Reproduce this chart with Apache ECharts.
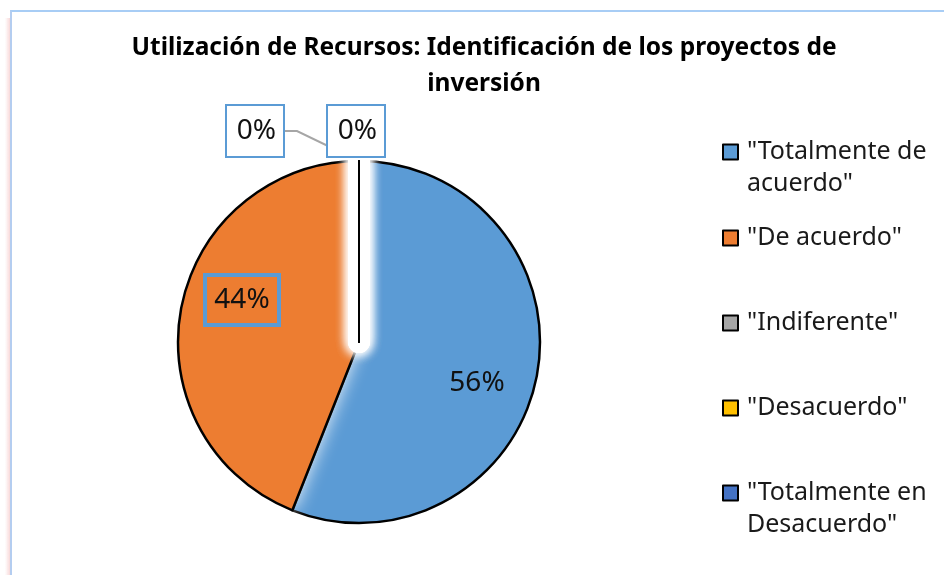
<!DOCTYPE html>
<html>
<head>
<meta charset="utf-8">
<script src="https://cdn.jsdelivr.net/npm/echarts@6/dist/echarts.min.js"></script>
<style>
  html, body { margin: 0; padding: 0; background: #fff; }
  #main { position: absolute; left: 0; top: 0; width: 944px; height: 575px; }
  #frame { position: absolute; left: 10px; top: 10px; right: 0; bottom: 0; border-top: 2px solid #a8cdf5; border-left: 2px solid #b4cdf0; pointer-events: none; }
  #edge { position: absolute; left: 5px; top: 18px; width: 5px; bottom: 0; background: linear-gradient(to right, rgba(255,255,255,0), rgba(240,170,170,0.45)); pointer-events: none; }
</style>
</head>
<body>
<div id="main"></div>
<div id="frame"></div>
<div id="edge"></div>
<script>
const titleText = 'Utilización de Recursos: Identificación de los proyectos de\ninversión'
const categories = ['"Totalmente de acuerdo"', '"De acuerdo"', '"Indiferente"', '"Desacuerdo"', '"Totalmente en Desacuerdo"']
const values = [56, 44, 0, 0, 0]
const sliceColors = ['#5b9bd5', '#ed7d31', '#a5a5a5', '#ffc000', '#4472c4']

const FONT = 'Noto Sans'
const PIE_CENTER = [359, 342]
const PIE_RADIUS = 181
const OUTLINE = 2.5
const boxStyle = { borderColor: '#5b9bd5', borderWidth: 2, padding: [8, 7], lineHeight: 34, overflow: 'none' }
const HIDDEN = { color: 'rgba(0,0,0,0)', borderWidth: 0 }

// legend rows sit where the original spaced them
const legendTops = [104, 222, 307, 392, 445]

const myChart = echarts.init(document.getElementById('main'), null, { renderer: 'canvas' })

const pieBase = {
  type: 'pie',
  center: PIE_CENTER,
  radius: PIE_RADIUS,
  startAngle: 90,
  clockwise: true,
  avoidLabelOverlap: false,
  percentPrecision: 0,
  animation: false,
  emphasis: { disabled: true }
}

// nudge inside labels outwards, snapped to whole pixels so the box borders stay crisp
const insideShift = [[26, 23], [-25, -24]]
const snapShift = (p, dx, dy) => ({
  x: Math.round(p.labelRect.x + p.labelRect.width / 2 + dx),
  y: Math.round(p.labelRect.y + p.labelRect.height / 2 + dy)
})

// one extra pie layer per drawing pass, all fed from the same arrays
const layer = (name, styleFor, labelFor) => ({
  ...pieBase,
  name,
  silent: true,
  label: { show: false },
  labelLine: { show: false },
  data: categories.map((c, i) => Object.assign(
    { name: c, value: values[i], itemStyle: styleFor(i) },
    labelFor ? labelFor(i) : {}
  ))
})

const zeroBox = () => Object.assign(
  { show: true, position: 'outside', formatter: '{d}%', fontFamily: FONT, fontSize: 28, color: '#111', backgroundColor: '#fff', width: 42 },
  boxStyle
)
const zeroLabel = (i) => {
  if (i === 2) {
    return { label: zeroBox(), labelLine: { show: true, length: 30, length2: 12, lineStyle: { color: '#a6a6a6', width: 2 } } }
  }
  if (i === 3) {
    return { label: zeroBox(), labelLine: { show: false, length: 30, length2: 0 } }
  }
  return {}
}

const zeroLayer = layer('zero', (i) => (values[i] === 0 ? { color: 'rgba(0,0,0,0)', borderColor: '#000', borderWidth: 2 } : HIDDEN), zeroLabel)
zeroLayer.labelLayout = (p) => {
  const right = p.labelRect.x + p.labelRect.width
  const midY = Math.round(p.labelRect.y + p.labelRect.height / 2)
  if (p.dataIndex === 2) return { x: Math.round(right - 61), y: midY }
  if (p.dataIndex === 3) return { x: Math.round(right + 28), y: midY }
  return {}
}

myChart.setOption({
  backgroundColor: 'transparent',
  title: {
    text: titleText,
    left: 484,
    top: 30,
    padding: 0,
    textAlign: 'center',
    textStyle: { fontFamily: FONT, fontWeight: 'bold', fontSize: 24.5, lineHeight: 36, color: '#000' }
  },
  legend: categories.map((name, i) => ({
    orient: 'vertical',
    left: 722,
    top: legendTops[i],
    padding: 0,
    data: [name],
    icon: 'rect',
    itemWidth: 15,
    itemHeight: 15,
    selectedMode: false,
    itemStyle: { borderColor: '#000', borderWidth: 2 },
    formatter: (n) => (n.length > 16 ? '\n' : '') + n,
    textStyle: {
      fontFamily: FONT,
      fontSize: 25,
      lineHeight: 32,
      color: '#1a1a1a',
      width: 196,
      overflow: 'break',
      padding: [0, 0, 0, 4]
    }
  })),
  series: [
    {
      ...pieBase,
      name: 'base',
      label: { show: true, position: 'inside', formatter: '{d}%', fontFamily: FONT, fontSize: 28, color: '#111' },
      labelLine: { show: false },
      labelLayout: (p) => {
        const s = insideShift[p.dataIndex]
        return s ? snapShift(p, s[0], s[1]) : {}
      },
      data: categories.map((name, i) => ({
        name,
        value: values[i],
        itemStyle: i === 1
          ? { color: sliceColors[i], borderWidth: 0, shadowBlur: 18, shadowColor: '#fff' }
          : { color: sliceColors[i], borderColor: '#000', borderWidth: values[i] === 0 ? 0 : OUTLINE },
        label: i === 1
          ? Object.assign({ width: 58, backgroundColor: 'transparent' }, boxStyle, { padding: [8, 8] })
          : (values[i] === 0 ? { show: false } : {})
      }))
    },
    // outline of the orange slice, drawn after its glow
    layer('outline', (i) => (i === 1 ? { color: 'rgba(0,0,0,0)', borderColor: '#000', borderWidth: OUTLINE } : HIDDEN)),
    // white glow around the empty slices
    layer('gap', (i) => (values[i] === 0
      ? { color: 'rgba(0,0,0,0)', borderColor: '#fff', borderWidth: 22, shadowBlur: 12, shadowColor: '#fff' }
      : HIDDEN)),
    zeroLayer
  ]
})

window.addEventListener('resize', () => {
  myChart.resize()
})
</script>
</body>
</html>
